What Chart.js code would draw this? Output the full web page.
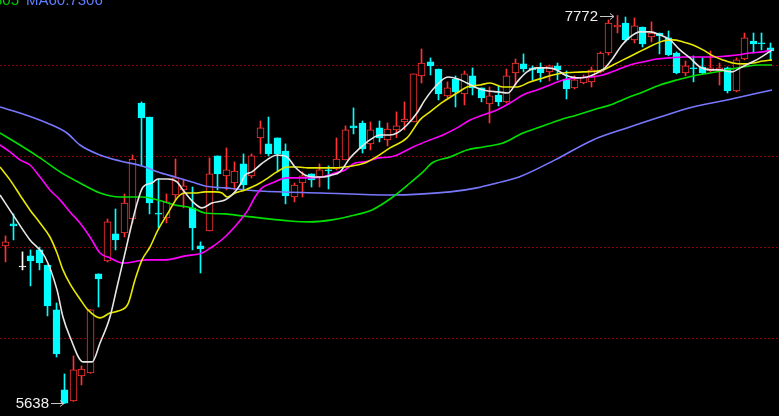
<!DOCTYPE html>
<html>
<head>
<meta charset="utf-8">
<script src="https://cdn.jsdelivr.net/npm/chart.js@4/dist/chart.umd.min.js"></script>
<style>
  html, body { margin: 0; padding: 0; background: #000; overflow: hidden; }
  canvas { display: block; }
</style>
</head>
<body>
<canvas id="chart" width="779" height="416"></canvas>
<script>
// daily bars
const opens = [
  6505, 6626, 6389, 6450, 6483, 6400, 6153, 5713, 5652, 5790,
  5806, 6351, 6422, 6571, 6576, 6653, 7291, 7214, 6683, 6659,
  6785, 6813, 6714, 6505, 6587, 7000, 6890, 6851, 6956, 6890,
  7099, 7066, 7099, 7027, 6774, 6851, 6901, 6884, 6923, 6928,
  6978, 7165, 7181, 7066, 7154, 7088, 7143, 7187, 7187, 7440,
  7517, 7478, 7330, 7423, 7341, 7440, 7374, 7286, 7335, 7297,
  7456, 7506, 7484, 7484, 7462, 7495, 7423, 7374, 7401, 7407,
  7462, 7566, 7709, 7731, 7638, 7709, 7654, 7676, 7649, 7566,
  7456, 7484, 7489, 7467, 7467, 7484, 7357, 7533, 7632, 7621,
  7594
];
const highs = [
  6560, 6681, 6472, 6483, 6499, 6400, 6191, 5801, 5900, 5845,
  6155, 6351, 6653, 6708, 6791, 7005, 7297, 7214, 6873, 6791,
  6983, 6868, 6829, 6527, 6989, 7000, 7044, 6967, 7011, 7011,
  7192, 7214, 7099, 7066, 6851, 6912, 6901, 6956, 6945, 7099,
  7165, 7264, 7192, 7187, 7192, 7181, 7242, 7297, 7451, 7588,
  7539, 7478, 7407, 7440, 7467, 7484, 7374, 7379, 7385, 7478,
  7533, 7561, 7495, 7511, 7500, 7511, 7467, 7440, 7445, 7489,
  7572, 7748, 7772, 7764, 7759, 7709, 7737, 7676, 7687, 7572,
  7522, 7550, 7539, 7577, 7511, 7489, 7539, 7676, 7676, 7676,
  7621
];
const lows = [
  6417, 6538, 6373, 6285, 6373, 6120, 5894, 5638, 5650, 5740,
  5804, 6169, 6417, 6483, 6554, 6631, 6945, 6681, 6604, 6631,
  6758, 6714, 6483, 6356, 6587, 6813, 6813, 6813, 6813, 6879,
  7011, 7000, 6912, 6736, 6747, 6774, 6829, 6829, 6818, 6923,
  6978, 7121, 7016, 7033, 7077, 7055, 7100, 7143, 7187, 7401,
  7445, 7308, 7319, 7269, 7280, 7335, 7297, 7181, 7275, 7291,
  7390, 7462, 7418, 7407, 7412, 7418, 7313, 7368, 7396, 7379,
  7456, 7555, 7676, 7627, 7621, 7599, 7627, 7561, 7550, 7451,
  7440, 7407, 7451, 7462, 7390, 7346, 7352, 7528, 7566, 7583,
  7528
];
const closes = [
  6527, 6615, 6389, 6422, 6411, 6175, 5911, 5640, 5823, 5828,
  6153, 6323, 6637, 6538, 6741, 6983, 7209, 6741, 6680, 6747,
  6879, 6835, 6604, 6488, 6901, 6901, 6923, 6917, 6840, 7000,
  7154, 7011, 7011, 6780, 6840, 6890, 6868, 6923, 6917, 6983,
  7143, 7154, 7038, 7143, 7099, 7148, 7165, 7203, 7451, 7511,
  7495, 7341, 7374, 7352, 7451, 7374, 7319, 7330, 7297, 7440,
  7511, 7478, 7473, 7456, 7495, 7473, 7368, 7418, 7434, 7473,
  7566, 7731, 7720, 7638, 7715, 7616, 7676, 7660, 7555, 7456,
  7495, 7478, 7456, 7484, 7484, 7357, 7528, 7649, 7616, 7616,
  7577
];

// moving averages as [bar index, value]
const ma5 = [
  [-0.59, 6785], [1.18, 6659], [2.94, 6538], [4.71, 6444], [6.12, 6263], [6.82, 6114],
  [7.65, 6004], [9.18, 5867], [10.24, 5867], [11.18, 5971], [12.35, 6114], [13.18, 6279],
  [14.12, 6466], [14.94, 6631], [15.65, 6758], [16.24, 6829], [17.29, 6851], [18, 6873],
  [19.18, 6873], [20.24, 6857], [20.94, 6813], [22.12, 6747], [23.18, 6714], [24.35, 6741],
  [25.88, 6758], [26.71, 6785], [27.65, 6840], [28.24, 6895], [29.06, 6912], [30, 6950],
  [30.82, 6978], [32, 7005], [33.18, 6994], [34.12, 6939], [35.29, 6895], [36.24, 6884],
  [37.41, 6884], [38.47, 6895], [39.41, 6912], [40.59, 6989], [41.53, 7033], [42.94, 7088],
  [44.12, 7115], [45.29, 7115], [46.12, 7126], [47.29, 7170], [48.47, 7236], [49.41, 7308],
  [50.59, 7379], [52.12, 7434], [53.29, 7423], [54.35, 7401], [55.53, 7374], [56.82, 7357],
  [58, 7352], [59.18, 7346], [60.24, 7407], [61.41, 7462], [62.59, 7484], [63.76, 7484],
  [64.94, 7473], [65.88, 7445], [67.29, 7429], [68.47, 7434], [69.65, 7456], [70.59, 7484],
  [71.53, 7539], [72.59, 7610], [73.53, 7654], [74.71, 7682], [75.88, 7682], [77.06, 7665],
  [78.24, 7638], [79.41, 7583], [80.59, 7539], [81.76, 7489], [82.94, 7473], [84.12, 7473],
  [85.53, 7462], [86.47, 7484], [87.65, 7511], [88.82, 7539], [90.24, 7583]
];
const ma10 = [
  [-0.59, 6939], [0.59, 6868], [1.76, 6785], [2.94, 6703], [4.12, 6631], [5.29, 6554],
  [6.12, 6466], [6.82, 6373], [7.65, 6296], [8.82, 6213], [9.76, 6153], [11.18, 6109],
  [12.35, 6136], [13.29, 6147], [14.47, 6186], [15.29, 6318], [16.12, 6428], [17.06, 6499],
  [18, 6593], [19.18, 6686], [20.35, 6774], [21.18, 6796], [22.35, 6796], [23.53, 6802],
  [24.71, 6802], [25.53, 6796], [26.12, 6774], [27.06, 6796], [28.24, 6813], [29.06, 6829],
  [30, 6851], [30.59, 6868], [32, 6912], [33.18, 6939], [34.47, 6939], [35.65, 6934],
  [37.29, 6934], [38.59, 6934], [40, 6939], [41.41, 6950], [42.35, 6961], [43.88, 7000],
  [45.29, 7044], [47.29, 7099], [48.82, 7198], [50, 7242], [51.53, 7297], [53.18, 7346],
  [54.35, 7379], [55.88, 7390], [57.06, 7401], [58.59, 7379], [60.24, 7379], [61.76, 7407],
  [63.29, 7429], [64.47, 7445], [65.65, 7456], [68, 7462], [70.35, 7473], [71.53, 7500],
  [72.71, 7528], [73.88, 7555], [75.06, 7583], [76.24, 7610], [77.41, 7632], [78.59, 7638],
  [79.76, 7627], [80.94, 7610], [82.12, 7583], [83.29, 7550], [84.47, 7528], [85.65, 7511],
  [86.82, 7506], [88, 7511], [89.18, 7522], [90.24, 7528]
];
const ma20 = [
  [-0.59, 7060], [0.59, 7022], [1.76, 6978], [2.94, 6950], [4.12, 6884], [5.29, 6813],
  [6.47, 6758], [7.65, 6692], [8.82, 6631], [10, 6554], [11.18, 6466], [12.35, 6439],
  [13.88, 6411], [16.71, 6428], [18.82, 6428], [21.18, 6450], [23.18, 6466], [24.35, 6499],
  [25.88, 6554], [27.41, 6631], [28.59, 6703], [29.41, 6774], [30.24, 6824], [31.41, 6851],
  [33.18, 6879], [35.88, 6879], [37.29, 6884], [38.82, 6906], [40, 6923], [41.18, 6961],
  [42.35, 6967], [43.88, 6989], [45.29, 6994], [46.12, 7005], [48, 7049], [50, 7088],
  [51.53, 7115], [53.18, 7154], [54.71, 7198], [56.24, 7225], [57.88, 7253], [59.41, 7291],
  [60.94, 7335], [62.59, 7363], [64.12, 7390], [65.65, 7418], [67.29, 7429], [68.82, 7434],
  [70.35, 7445], [72, 7473], [73.53, 7500], [75.06, 7517], [76.71, 7533], [78.24, 7539],
  [79.76, 7544], [82.94, 7544], [86.12, 7555], [87.65, 7566], [89.18, 7572], [90.24, 7583]
];
const ma30 = [
  [-0.59, 7126], [1.76, 7060], [4.12, 6989], [6.47, 6912], [8.82, 6851], [11.18, 6796],
  [13.53, 6774], [16.12, 6774], [18, 6758], [20, 6730], [22, 6714], [23.53, 6686],
  [25.88, 6681], [27.88, 6670], [30, 6659], [33.53, 6642], [35.88, 6637], [38.47, 6648],
  [41.18, 6675], [43.18, 6703], [45.29, 6763], [47.65, 6851], [49.18, 6912], [50.24, 6961],
  [52.35, 6994], [54.35, 7033], [56.24, 7049], [58.59, 7071], [60.94, 7126], [62.94, 7159],
  [65.29, 7198], [67.29, 7225], [69.18, 7253], [71.18, 7280], [73.18, 7319], [75.06, 7352],
  [77.06, 7390], [79.06, 7418], [80.94, 7440], [82.94, 7456], [84.94, 7473], [86.82, 7489],
  [88.82, 7500], [90.24, 7500]
];
const ma60 = [
  [-0.59, 7269], [1.76, 7236], [4.94, 7181], [7.29, 7126], [8.82, 7060], [11.18, 7005],
  [13.53, 6972], [16.12, 6945], [18, 6912], [20, 6884], [22, 6857], [23.53, 6835],
  [25.88, 6824], [30, 6807], [37.29, 6796], [45.29, 6785], [52.35, 6802], [55.53, 6824],
  [57.88, 6851], [60.47, 6884], [64.71, 6978], [69.18, 7088], [73.18, 7154], [77.06, 7214],
  [80.94, 7269], [84.94, 7308], [90.24, 7363]
];

const gridLevels = [6000, 6500, 7000, 7500];
const highMark = { index: 72, text: "7772" };
const lowMark = { index: 7, text: "5638" };
const topLabels = [
  { text: "MA30:7305", color: "#00d000" },
  { text: "MA60:7306", color: "#5f7dff" },
];

const UP = "#ff3333";
const DOWN = "#00ffff";
const FLAT = "#ffffff";

// slot geometry of the x axis: first bar centre at 5px, 8.5px per bar
const SLOT = 8.5;
const FIRST = 5;

function candleColor(i) {
  if (closes[i] > opens[i]) return UP;
  if (closes[i] < opens[i]) return DOWN;
  return FLAT;
}

// nudge a bar so its centre sits on a pixel centre (crisp 1px outlines)
function snapX(i) {
  const px = FIRST + SLOT * i;
  return i + (Math.floor(px) + 0.5 - px) / SLOT;
}

const colors = opens.map((o, i) => candleColor(i));

function lineSet(points, color) {
  return {
    type: "line",
    data: points.map((p) => ({ x: p[0], y: p[1] })),
    borderColor: color,
    borderWidth: 1.6,
    pointRadius: 0,
    fill: false,
    cubicInterpolationMode: "monotone",
    order: 0,
  };
}

function drawArrow(ctx, x1, x2, y) {
  ctx.beginPath();
  ctx.moveTo(x1, y);
  ctx.lineTo(x2, y);
  ctx.moveTo(x2 - 4, y - 3);
  ctx.lineTo(x2, y);
  ctx.lineTo(x2 - 4, y + 3);
  ctx.stroke();
}

const overlay = {
  id: "overlay",
  beforeDatasetsDraw(chart) {
    const ctx = chart.ctx;
    const { left, right } = chart.chartArea;
    const yScale = chart.scales.y;
    ctx.save();
    ctx.strokeStyle = "#900000";
    ctx.lineWidth = 1;
    ctx.setLineDash([2, 2]);
    gridLevels.forEach((v) => {
      const y = Math.round(yScale.getPixelForValue(v)) + 0.5;
      ctx.beginPath();
      ctx.moveTo(left, y);
      ctx.lineTo(right, y);
      ctx.stroke();
    });
    ctx.restore();
  },
  afterDatasetsDraw(chart) {
    const ctx = chart.ctx;
    const xScale = chart.scales.x;
    const yScale = chart.scales.y;
    ctx.save();
    ctx.font = '15px "Liberation Sans", Arial, sans-serif';
    ctx.textBaseline = "middle";
    ctx.textAlign = "right";
    ctx.strokeStyle = "#c8c8c8";
    ctx.lineWidth = 1;

    // highest bar
    const xh = Math.round(xScale.getPixelForValue(highMark.index)) - 3;
    const yh = Math.round(yScale.getPixelForValue(highs[highMark.index])) + 0.5;
    drawArrow(ctx, xh - 14, xh, yh);
    ctx.fillStyle = "#f0f0f0";
    ctx.fillText(highMark.text, xh - 16, yh);

    // lowest bar
    const xl = Math.round(xScale.getPixelForValue(lowMark.index)) - 1;
    const yl = Math.round(yScale.getPixelForValue(lows[lowMark.index])) - 0.5;
    drawArrow(ctx, xl - 13, xl, yl);
    ctx.fillText(lowMark.text, xl - 15, yl);

    // MA readout, cut off at the top edge
    ctx.textBaseline = "alphabetic";
    ctx.textAlign = "right";
    ctx.fillStyle = topLabels[0].color;
    ctx.fillText(topLabels[0].text, 19, 5);
    ctx.textAlign = "left";
    ctx.fillStyle = topLabels[1].color;
    ctx.fillText(topLabels[1].text, 26, 5);
    ctx.restore();
  },
};

const ctx = document.getElementById("chart").getContext("2d");
const chart = new Chart(ctx, {
  type: "bar",
  data: {
    datasets: [
      lineSet(ma5, "#e6e6e6"),
      lineSet(ma10, "#e8e800"),
      lineSet(ma20, "#ff00ff"),
      lineSet(ma30, "#00e000"),
      lineSet(ma60, "#7878ff"),
      {
        // bodies
        data: opens.map((o, i) => ({ x: snapX(i), y: [o, closes[i]] })),
        backgroundColor: colors.map((c) => (c === UP ? "#000000" : c)),
        borderColor: colors,
        borderWidth: 1,
        borderSkipped: false,
        barThickness: 7,
        minBarLength: 1,
        grouped: false,
        order: 1,
      },
      {
        // wicks
        data: opens.map((o, i) => ({ x: snapX(i), y: [lows[i], highs[i]] })),
        backgroundColor: colors,
        borderWidth: 0,
        barThickness: 1,
        grouped: false,
        order: 2,
      },
    ],
  },
  options: {
    responsive: false,
    animation: false,
    devicePixelRatio: 1,
    events: [],
    layout: { padding: 0 },
    plugins: {
      legend: { display: false },
      tooltip: { enabled: false },
    },
    scales: {
      x: {
        type: "linear",
        min: -FIRST / SLOT,
        max: (779 - FIRST) / SLOT,
        offset: false,
        display: false,
      },
      y: {
        type: "linear",
        min: 5569.5,
        max: 7857.5,
        display: false,
      },
    },
  },
  plugins: [overlay],
});
</script>
</body>
</html>
